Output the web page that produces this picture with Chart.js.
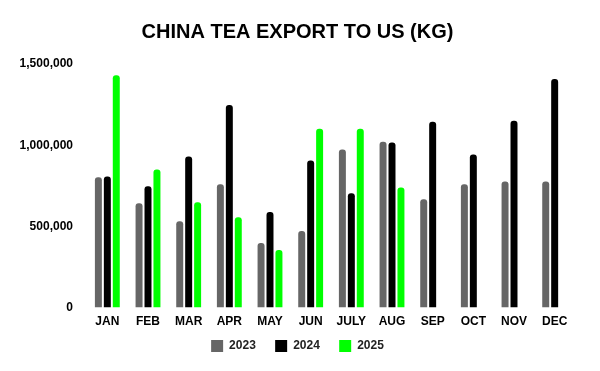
<!DOCTYPE html>
<html lang="en">
<head>
    <meta charset="UTF-8">
    <title>China Tea Export to US</title>
    <script src="https://cdn.jsdelivr.net/npm/chart.js"></script>
    <style>
        html, body { margin: 0; padding: 0; background: #fff; }
        #wrap { width: 600px; height: 371px; }
    </style>
</head>
<body>
    <div id="wrap">
        <canvas id="teaChart"></canvas>
    </div>

    <script>
        // Monthly export volumes (kg)
        const months = ['JAN', 'FEB', 'MAR', 'APR', 'MAY', 'JUN', 'JULY', 'AUG', 'SEP', 'OCT', 'NOV', 'DEC'];
        const exports2023 = [802000, 643000, 532000, 759000, 398000, 471000, 973000, 1022000, 667000, 759000, 777000, 777000];
        const exports2024 = [808000, 747000, 930000, 1248000, 588000, 906000, 704000, 1016000, 1144000, 942000, 1151000, 1408000];
        const exports2025 = [1430000, 851000, 649000, 557000, 355000, 1102000, 1102000, 740000, null, null, null, null];
        const yTicks = [0, 500000, 1000000, 1500000];

        const fontFamily = '"Liberation Sans", Arial, sans-serif';

        function makeDataset(label, data, color) {
            return {
                label: label,
                data: data,
                backgroundColor: color,
                borderRadius: 3,
                borderSkipped: 'bottom',
                categoryPercentage: 0.66,
                barPercentage: 0.78
            };
        }

        new Chart(document.getElementById('teaChart'), {
            type: 'bar',
            data: {
                labels: months,
                datasets: [
                    makeDataset('2023', exports2023, '#666666'),
                    makeDataset('2024', exports2024, '#000000'),
                    makeDataset('2025', exports2025, '#00ff00')
                ]
            },
            options: {
                responsive: true,
                maintainAspectRatio: false,
                animation: false,
                layout: { padding: { left: 20, right: 25, top: 20, bottom: 9 } },
                plugins: {
                    title: {
                        display: true,
                        text: 'CHINA TEA EXPORT TO US (KG)',
                        color: '#000',
                        font: { family: fontFamily, size: 20, weight: 'bold' },
                        padding: { top: 0, bottom: 20 }
                    },
                    legend: {
                        position: 'bottom',
                        labels: {
                            color: '#222',
                            boxWidth: 12,
                            boxHeight: 12,
                            padding: 4,
                            font: { family: fontFamily, size: 12, weight: 'bold' },
                            // small vertical padding, so widen the gap between items with trailing space
                            generateLabels: chart => {
                                const items = Chart.defaults.plugins.legend.labels.generateLabels(chart);
                                items.forEach((item, i) => {
                                    if (i < items.length - 1) item.text += '\u2003 ';
                                });
                                return items;
                            }
                        }
                    },
                    tooltip: { enabled: false }
                },
                scales: {
                    x: {
                        grid: { display: false, drawTicks: false },
                        border: { display: false },
                        ticks: {
                            color: '#000',
                            padding: 7,
                            font: { family: fontFamily, size: 12, weight: 'bold' }
                        }
                    },
                    y: {
                        min: 0,
                        max: yTicks[yTicks.length - 1],
                        afterBuildTicks: axis => { axis.ticks = yTicks.map(v => ({ value: v })); },
                        // label width + gap to the bars
                        afterFit: axis => { axis.width = 67; },
                        grid: { display: false, drawTicks: false },
                        border: { display: false },
                        ticks: {
                            color: '#000',
                            padding: 14,
                            font: { family: fontFamily, size: 12, weight: 'bold' },
                            callback: v => v.toLocaleString('en-US')
                        }
                    }
                }
            }
        });
    </script>
</body>
</html>
